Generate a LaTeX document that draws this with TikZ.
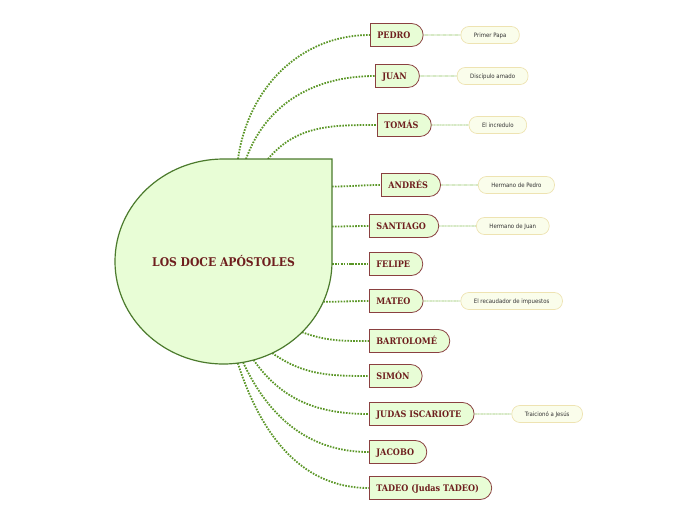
\documentclass[tikz,border=0pt]{standalone}
\usepackage{fontspec}
\newfontfamily\boxfont{DejaVu Serif Condensed}
\newfontfamily\notefont{DejaVu Sans Condensed}
\usetikzlibrary{positioning,shapes.misc,shapes.geometric,backgrounds}
\definecolor{linkgreen}{HTML}{5A9626}
\definecolor{rootfill}{HTML}{E8FDD6}
\definecolor{rootdraw}{HTML}{4B7A2C}
\definecolor{boxdraw}{HTML}{8A4040}
\definecolor{boxtext}{HTML}{6E1E1E}
\definecolor{notefill}{HTML}{FAFDEB}
\definecolor{notedraw}{HTML}{EEE3B2}
\definecolor{notelink}{HTML}{8CC05A}
\begin{document}
\begin{tikzpicture}[x=1pt, y=-1pt,
    rootshape/.style={draw=rootdraw, line width=1.2pt, fill=rootfill},
    root/.style={ellipse, minimum width=217pt, minimum height=205pt, inner sep=0pt, outer sep=0pt,
      font=\boxfont\bfseries\fontsize{12}{14}\selectfont, text=boxtext},
    apostle/.style={rounded rectangle, rounded rectangle west arc=none, draw=boxdraw, line width=0.8pt,
      fill=rootfill, anchor=west, minimum height=23pt, inner xsep=7pt, text height=7pt, text depth=1pt,
      execute at end node={\hspace*{5pt}},
      font=\boxfont\bfseries\fontsize{9}{10}\selectfont, text=boxtext},
    note/.style={draw=notedraw, line width=0.7pt, fill=notefill, rounded corners=8pt, minimum height=17pt,
      inner xsep=13pt, text height=5pt, text depth=1pt, font=\notefont\fontsize{6}{7}\selectfont, text=black!80},
    link/.style={draw=linkgreen, line width=1.8pt, dash pattern=on 1.6pt off 1.3pt},
    notelink/.style={draw=notelink, line width=0.8pt, dash pattern=on 0.8pt off 0.4pt}]
  \useasboundingbox (0,0) rectangle (696,520);
  \path[rootshape] (223.5,159) -- (332,159) -- (332,261.5)
    arc[start angle=0, end angle=-270, x radius=108.5pt, y radius=102.5pt] -- cycle;
  \node[root] (root) at (223.5,261.5) {LOS DOCE APÓSTOLES};

  \node[apostle] (pedro) at (370,35) {PEDRO};
  \node[apostle] (juan) at (375,76) {JUAN};
  \node[apostle] (tomas) at (377,125) {TOMÁS};
  \node[apostle] (andres) at (381,185) {ANDRÉS};
  \node[apostle] (santiago) at (369,226) {SANTIAGO};
  \node[apostle] (felipe) at (369,264) {FELIPE};
  \node[apostle] (mateo) at (369,301) {MATEO};
  \node[apostle] (bartolome) at (369,341) {BARTOLOMÉ};
  \node[apostle] (simon) at (369,376) {SIMÓN};
  \node[apostle] (judas) at (369,414) {JUDAS ISCARIOTE};
  \node[apostle] (jacobo) at (369,452) {JACOBO};
  \node[apostle] (tadeo) at (369,488) {TADEO (Judas TADEO)};

  \node[note, right=37pt of pedro] (papa) {Primer Papa};
  \node[note, right=37pt of juan] (amado) {Discípulo amado};
  \node[note, right=37pt of tomas] (incredulo) {El incredulo};
  \node[note, right=37pt of andres] (hpedro) {Hermano de Pedro};
  \node[note, right=37pt of santiago] (hjuan) {Hermano de Juan};
  \node[note, right=37pt of mateo] (recaudador) {El recaudador de impuestos};
  \node[note, right=37pt of judas] (traiciono) {Traicionó a Jesús};

  \draw[notelink] (pedro) -- (papa);
  \draw[notelink] (juan) -- (amado);
  \draw[notelink] (tomas) -- (incredulo);
  \draw[notelink] (andres) -- (hpedro);
  \draw[notelink] (santiago) -- (hjuan);
  \draw[notelink] (mateo) -- (recaudador);
  \draw[notelink] (judas) -- (traiciono);

  \begin{scope}[on background layer]
    \draw[link] ([xshift=14.5pt]root.north) to[out=82, in=180] (pedro.west);
    \draw[link] ([xshift=22.5pt]root.north) to[out=70, in=180] (juan.west);
    \draw[link] ([xshift=44.5pt]root.north) to[out=50, in=180] (tomas.west);
    \draw[link] ([yshift=75pt]root.east) to[out=0, in=180] (andres.west);
    \draw[link] ([yshift=35pt]root.east) to[out=0, in=180] (santiago.west);
    \draw[link] ([yshift=-2.5pt]root.east) to[out=0, in=180] (felipe.west);
    \draw[link] (root.-22) to[out=0, in=180] (mateo.west);
    \draw[link] (root.-42) to[out=-20, in=180] (bartolome.west);
    \draw[link] (root.-62) to[out=-35, in=180] (simon.west);
    \draw[link] (root.-73.5) to[out=-55, in=180] (judas.west);
    \draw[link] (root.-79) to[out=-65, in=180] (jacobo.west);
    \draw[link] (root.-82.5) to[out=-72, in=180] (tadeo.west);
  \end{scope}
\end{tikzpicture}
\end{document}
